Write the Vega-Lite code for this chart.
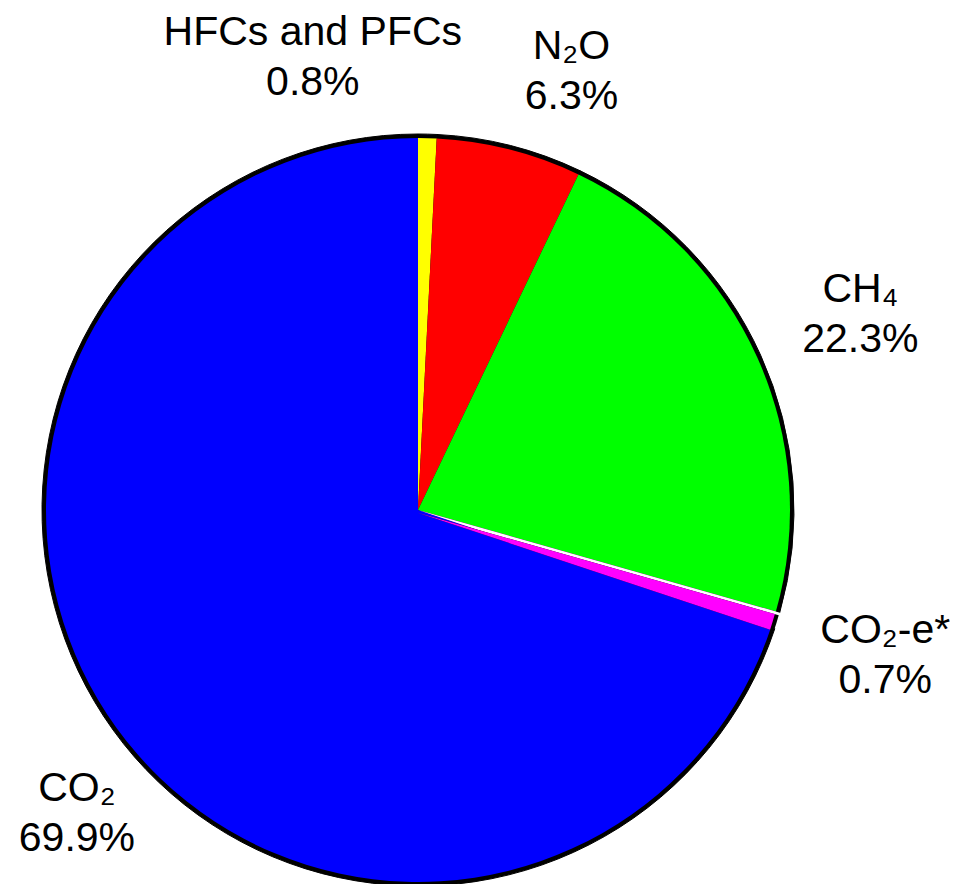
{
  "$schema": "https://vega.github.io/schema/vega-lite/v6.json",
  "width": 967,
  "height": 884,
  "autosize": "none",
  "padding": 0,
  "background": "white",
  "config": {"view": {"stroke": null}},
  "data": {"values": [
    {"gas": "HFCs and PFCs", "label": "HFCs and PFCs\n0.8%", "pct": 0.8, "idx": 1},
    {"gas": "N2O", "label": "N₂O\n6.3%", "pct": 6.3, "idx": 2},
    {"gas": "CH4", "label": "CH₄\n22.3%", "pct": 22.3, "idx": 3},
    {"gas": "CO2-e", "label": "CO₂-e*\n0.7%", "pct": 0.7, "idx": 4},
    {"gas": "CO2", "label": "CO₂\n69.9%", "pct": 69.9, "idx": 5}
  ]},
  "transform": [
    {"stack": "pct", "groupby": [], "sort": [{"field": "idx"}], "as": ["t0", "t1"]},
    {"calculate": "(datum.t0 + datum.t1) / 2", "as": "tm"}
  ],
  "layer": [
    {
      "mark": {"type": "arc", "x": 418, "y": 510, "radius": 376, "fill": "black", "stroke": "black", "strokeWidth": 1},
      "encoding": {
        "theta": {"field": "t0", "type": "quantitative", "scale": {"domain": [0, 100]}},
        "theta2": {"field": "t1"}
      }
    },
    {
      "mark": {"type": "arc", "x": 418, "y": 510, "radius": 372, "strokeWidth": 0},
      "encoding": {
        "theta": {"field": "t0", "type": "quantitative", "scale": {"domain": [0, 100]}},
        "theta2": {"field": "t1"},
        "color": {
          "field": "gas", "type": "nominal", "legend": null,
          "scale": {
            "domain": ["HFCs and PFCs", "N2O", "CH4", "CO2-e", "CO2"],
            "range": ["#ffff00", "#ff0000", "#00ff00", "#ff00ff", "#0000ff"]
          }
        }
      }
    },
    {
      "transform": [{"filter": "datum.gas == 'CO2-e'"}],
      "mark": {"type": "arc", "x": 418, "y": 510, "radius": 378, "fill": "white"},
      "encoding": {
        "theta": {"field": "t0", "type": "quantitative", "scale": {"domain": [0, 100]}},
        "theta2": {"field": "t1"}
      }
    },
    {
      "transform": [{"filter": "datum.gas == 'CO2-e'"}],
      "mark": {"type": "arc", "x": 418, "y": 510, "radius": 376, "fill": "black", "xOffset": -1, "yOffset": 2.5},
      "encoding": {
        "theta": {"field": "t0", "type": "quantitative", "scale": {"domain": [0, 100]}},
        "theta2": {"field": "t1"}
      }
    },
    {
      "transform": [{"filter": "datum.gas == 'CO2-e'"}],
      "mark": {"type": "arc", "x": 418, "y": 510, "radius": 372, "fill": "#ff00ff", "xOffset": -1, "yOffset": 2.5},
      "encoding": {
        "theta": {"field": "t0", "type": "quantitative", "scale": {"domain": [0, 100]}},
        "theta2": {"field": "t1"}
      }
    },
    {
      "transform": [{"filter": "datum.gas == 'HFCs and PFCs'"}],
      "mark": {"type": "text", "x": 418, "y": 510, "radius": 470, "dx": -117, "dy": -7, "font": "Liberation Sans", "fontSize": 41, "lineHeight": 50, "lineBreak": "\n", "align": "center", "baseline": "middle", "color": "black"},
      "encoding": {
        "theta": {"field": "tm", "type": "quantitative", "stack": null, "scale": {"domain": [0, 100]}},
        "text": {"field": "label"}
      }
    },
    {
      "transform": [{"filter": "datum.gas == 'N2O'"}],
      "mark": {"type": "text", "x": 418, "y": 510, "radius": 470, "dx": 38, "dy": -7, "font": "Liberation Sans", "fontSize": 41, "lineHeight": 50, "lineBreak": "\n", "align": "center", "baseline": "middle", "color": "black"},
      "encoding": {
        "theta": {"field": "tm", "type": "quantitative", "stack": null, "scale": {"domain": [0, 100]}},
        "text": {"field": "label"}
      }
    },
    {
      "transform": [{"filter": "datum.gas == 'CH4'"}],
      "mark": {"type": "text", "x": 418, "y": 510, "radius": 470, "dx": 14, "dy": -27, "font": "Liberation Sans", "fontSize": 41, "lineHeight": 50, "lineBreak": "\n", "align": "center", "baseline": "middle", "color": "black"},
      "encoding": {
        "theta": {"field": "tm", "type": "quantitative", "stack": null, "scale": {"domain": [0, 100]}},
        "text": {"field": "label"}
      }
    },
    {
      "transform": [{"filter": "datum.gas == 'CO2-e'"}],
      "mark": {"type": "text", "x": 418, "y": 510, "radius": 470, "dx": 18, "dy": -17, "font": "Liberation Sans", "fontSize": 41, "lineHeight": 50, "lineBreak": "\n", "align": "center", "baseline": "middle", "color": "black"},
      "encoding": {
        "theta": {"field": "tm", "type": "quantitative", "stack": null, "scale": {"domain": [0, 100]}},
        "text": {"field": "label"}
      }
    },
    {
      "transform": [{"filter": "datum.gas == 'CO2'"}],
      "mark": {"type": "text", "x": 418, "y": 510, "radius": 470, "dx": 40, "dy": 4, "font": "Liberation Sans", "fontSize": 41, "lineHeight": 50, "lineBreak": "\n", "align": "center", "baseline": "middle", "color": "black"},
      "encoding": {
        "theta": {"field": "tm", "type": "quantitative", "stack": null, "scale": {"domain": [0, 100]}},
        "text": {"field": "label"}
      }
    }
  ]
}
